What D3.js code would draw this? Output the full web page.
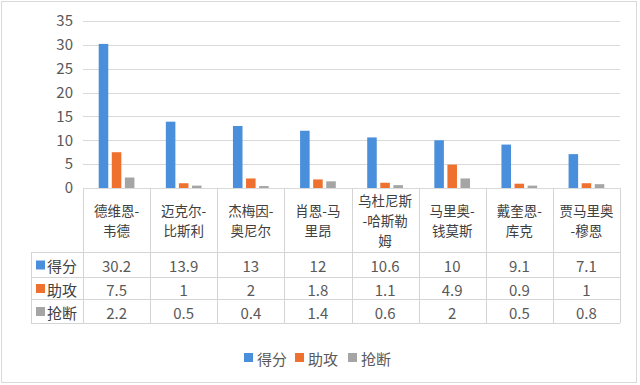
<!DOCTYPE html>
<html><head><meta charset="utf-8">
<script src="https://cdn.jsdelivr.net/npm/d3@7/dist/d3.min.js"></script>
<style>
html,body{margin:0;padding:0;background:#fff;}
svg{display:block;font-family:"Microsoft YaHei","Noto Sans CJK SC",sans-serif;}
</style></head>
<body>
<svg id="chart" width="640" height="385"></svg>
<script>
const categories = ["德维恩-韦德","迈克尔-比斯利","杰梅因-奥尼尔","肖恩-马里昂","乌杜尼斯-哈斯勒姆","马里奥-钱莫斯","戴奎恩-库克","贾马里奥-穆恩"];
const categoryLines = [["德维恩-","韦德"],["迈克尔-","比斯利"],["杰梅因-","奥尼尔"],["肖恩-马","里昂"],["乌杜尼斯","-哈斯勒","姆"],["马里奥-","钱莫斯"],["戴奎恩-","库克"],["贾马里奥","-穆恩"]];
const seriesNames = ["得分","助攻","抢断"];
const points = [30.2,13.9,13,12,10.6,10,9.1,7.1];
const assists = [7.5,1,2,1.8,1.1,4.9,0.9,1];
const steals = [2.2,0.5,0.4,1.4,0.6,2,0.5,0.8];
const yTicks = [0,5,10,15,20,25,30,35];
const seriesValues = [points, assists, steals];
const colors = ["#4A8FDB","#EF7130","#A5A5A5"];

(function(){
const svg = d3.select("#chart");
const textColor = "#595959";
const pLeft = 83, pRight = 620, pTop = 21, pBottom = 188;

svg.append("rect").attr("x",1.5).attr("y",1.5).attr("width",635).attr("height",381)
  .attr("fill","#fff").attr("stroke","#d9d9d9");

const y = d3.scaleLinear().domain([0,35]).range([pBottom, pTop]);
const x0 = d3.scaleBand().domain(categories).range([pLeft, pRight]).paddingInner(0).paddingOuter(0);
const x1 = d3.scaleBand().domain(seriesNames).range([0, x0.bandwidth()]).paddingInner(0.27).paddingOuter(1.2);

svg.append("g").selectAll("line").data(yTicks).join("line")
  .attr("x1",pLeft).attr("x2",pRight)
  .attr("y1",d=>Math.round(y(d))+0.5).attr("y2",d=>Math.round(y(d))+0.5)
  .attr("stroke","#d9d9d9").attr("stroke-width",1);

const yAxis = d3.axisLeft(y).tickValues(yTicks).tickSize(0).tickPadding(10);
const ya = svg.append("g").attr("transform",`translate(${pLeft},0)`).call(yAxis);
ya.select(".domain").remove();
ya.selectAll("text").attr("fill",textColor).style("font-size","15px")
  .style("font-family","'Microsoft YaHei','Noto Sans CJK SC',sans-serif");

const groups = svg.append("g").selectAll("g").data(categories).join("g")
  .attr("transform",d=>`translate(${x0(d)},0)`);
groups.selectAll("rect").data((d,i)=>seriesNames.map((s,j)=>({s, v: seriesValues[j][i], j})))
  .join("rect")
  .attr("x",d=>x1(d.s)).attr("width",x1.bandwidth())
  .attr("y",d=>y(d.v)).attr("height",d=>y(0)-y(d.v))
  .attr("fill",d=>colors[d.j]);

const border = "#d4d4d4";
const rowH = [252,277,299,323];
const tbl = svg.append("g");
tbl.selectAll("line.hv").data(categories.concat(["__end"])).join("line")
  .attr("x1",(d,i)=>Math.round(pLeft + i*x0.bandwidth())+0.5)
  .attr("x2",(d,i)=>Math.round(pLeft + i*x0.bandwidth())+0.5)
  .attr("y1",pBottom).attr("y2",rowH[3])
  .attr("stroke",border);
rowH.forEach(r=>{
  tbl.append("line").attr("x1",31).attr("x2",pRight).attr("y1",r+0.5).attr("y2",r+0.5).attr("stroke",border);
});
tbl.append("line").attr("x1",31.5).attr("x2",31.5).attr("y1",rowH[0]).attr("y2",rowH[3]).attr("stroke",border);

categoryLines.forEach((lines,i)=>{
  const cx = x0(categories[i]) + x0.bandwidth()/2;
  const n = lines.length;
  const lh = 19.7;
  const firstY = 220 - (n-1)/2*lh;
  const t = tbl.append("text").attr("text-anchor","middle").attr("dominant-baseline","central")
      .attr("fill","#404040").style("font-size","13.5px");
  lines.forEach((ln,k)=>{
    t.append("tspan").attr("x",cx).attr("y",firstY + k*lh).text(ln);
  });
});

seriesNames.forEach((s,j)=>{
  const cy = (rowH[j]+rowH[j+1])/2 + 1;
  tbl.append("rect").attr("x",36).attr("y",cy-5).attr("width",9).attr("height",9).attr("fill",colors[j]);
  tbl.append("text").attr("x",47).attr("y",cy).attr("dominant-baseline","central")
    .attr("fill","#404040").style("font-size","15px").text(s);
  seriesValues[j].forEach((v,i)=>{
    tbl.append("text").attr("x",x0(categories[i])+x0.bandwidth()/2).attr("y",cy)
      .attr("text-anchor","middle").attr("dominant-baseline","central")
      .attr("fill",textColor).style("font-size","15px").text(v);
  });
});

const legendX = [244, 295, 348];
seriesNames.forEach((s,j)=>{
  const g = svg.append("g");
  g.append("rect").attr("x",legendX[j]).attr("y",353).attr("width",9).attr("height",9).attr("fill",colors[j]);
  g.append("text").attr("x",legendX[j]+13).attr("y",358).attr("dominant-baseline","central")
    .attr("fill",textColor).style("font-size","15px").text(s);
});
})();
</script>
</body></html>
